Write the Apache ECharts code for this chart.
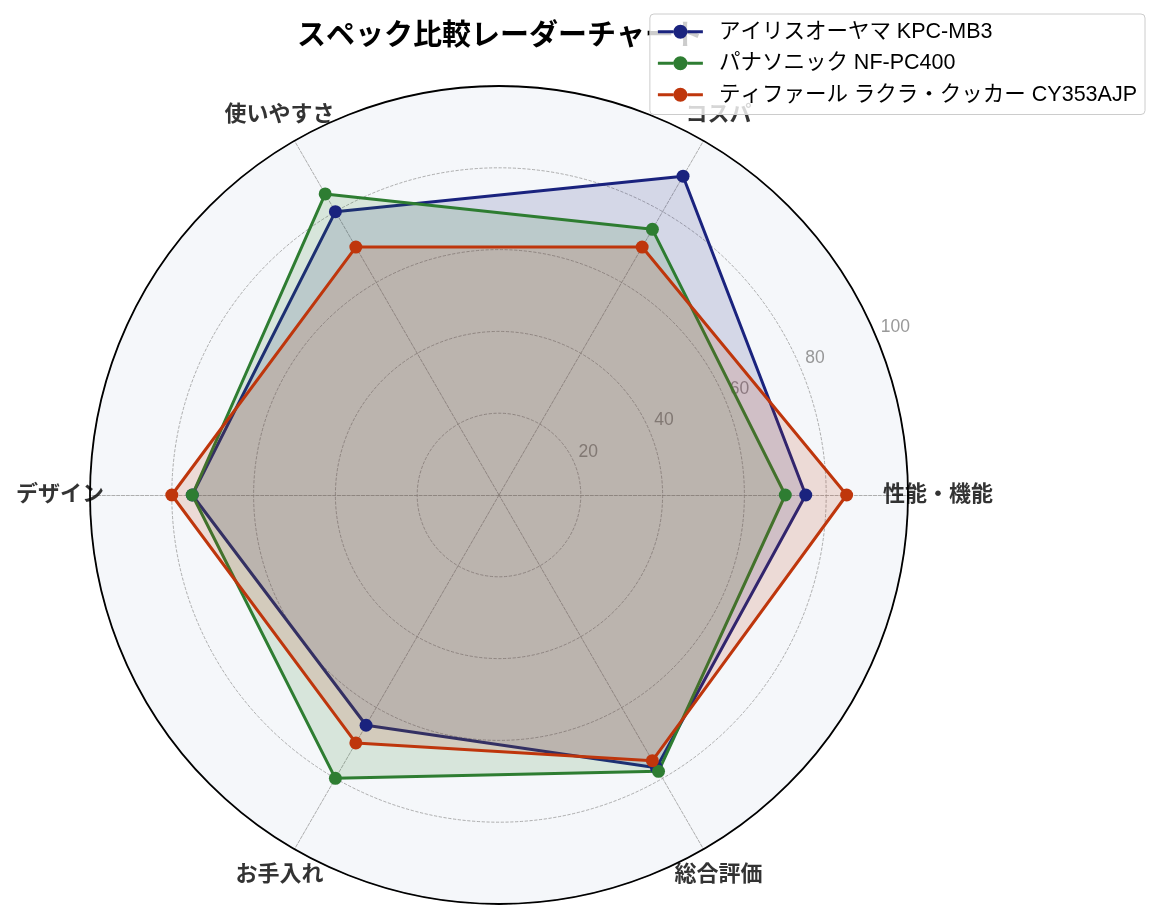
<!DOCTYPE html>
<html>
<head>
<meta charset="utf-8">
<script src="https://cdn.jsdelivr.net/npm/echarts@6/dist/echarts.min.js"></script>
<style>html,body{margin:0;padding:0;background:#fff}#c{width:1159px;height:920px}</style>
</head>
<body>
<div id="c"></div>
<script>
const titleText = 'スペック比較レーダーチャート';
const categories = ['性能・機能', 'コスパ', '使いやすさ', 'デザイン', 'お手入れ', '総合評価'];
const seriesNames = ['アイリスオーヤマ KPC-MB3', 'パナソニック NF-PC400', 'ティファール ラクラ・クッカー CY353AJP'];
const irisValues = [75, 90, 80, 75, 65, 77];
const panaValues = [70, 75, 85, 75, 80, 78];
const tfalValues = [85, 70, 70, 80, 70, 75];
const tickLabels = ['20', '40', '60', '80', '100'];
const axisMax = 100;

const colors = ['#1a237e', '#2e7d32', '#bf360c'];
const valueSets = [irisValues, panaValues, tfalValues];
const FONT = '"Liberation Sans", "Noto Sans CJK JP", sans-serif';
const CX = 499, CY = 495, R = 409, RLABEL = 439;
const legendIcon = 'path://M0,5.5L15.5,5.5L15.5,8.5L0,8.5Z M29.5,5.5L45,5.5L45,8.5L29.5,8.5Z M15.5,7A7,7,0,1,0,29.5,7A7,7,0,1,0,15.5,7Z';

const chart = echarts.init(document.getElementById('c'));
const option = {
  backgroundColor: '#ffffff',
  animation: false,
  title: {
    text: titleText,
    left: 292, top: 17, z: 1,
    textStyle: { fontFamily: FONT, fontSize: 29, fontWeight: 'bold', color: '#000' }
  },
  legend: {
    data: seriesNames,
    orient: 'vertical',
    right: 14, top: 14,
    padding: [7, 8, 9, 8],
    itemGap: 10,
    itemWidth: 45, itemHeight: 14,
    icon: legendIcon,
    backgroundColor: 'rgba(255,255,255,0.8)',
    borderColor: '#cccccc', borderWidth: 1, borderRadius: 4,
    z: 10,
    textStyle: { fontFamily: FONT, fontSize: 21.5, color: '#000', padding: [0, 8, 0, 11] }
  },
  radar: {
    center: [CX, CY], radius: R,
    startAngle: 0,
    shape: 'circle',
    splitNumber: 5,
    indicator: categories.map(n => ({ name: n, max: axisMax, min: 0 })),
    axisName: { show: false },
    axisLine: { lineStyle: { color: '#9a9a9a', type: 'dashed', width: 0.8 } },
    splitLine: { lineStyle: { color: '#9a9a9a', type: 'dashed', width: 0.8 } },
    splitArea: { show: true, areaStyle: { color: ['#F5F7FA'] } }
  },
  polar: [
    { center: [CX, CY], radius: R },
    { center: [CX, CY], radius: RLABEL }
  ],
  angleAxis: [
    { polarIndex: 0, type: 'value', min: 0, max: 360, startAngle: 0, clockwise: false, z: 3,
      axisLine: { show: true, lineStyle: { color: '#000', width: 1.8 } },
      axisTick: { show: false }, axisLabel: { show: false }, splitLine: { show: false } },
    { polarIndex: 1, type: 'value', min: 0, max: 360, startAngle: 0, clockwise: false, show: false }
  ],
  radiusAxis: [
    { polarIndex: 0, type: 'value', min: 0, max: axisMax, show: false },
    { polarIndex: 1, type: 'value', min: 0, max: axisMax, show: false }
  ],
  series: [
    {
      type: 'scatter', coordinateSystem: 'polar', polarIndex: 0, z: 1,
      silent: true, symbolSize: 1, itemStyle: { color: 'rgba(0,0,0,0)' },
      data: tickLabels.map(t => [Number(t), 22.5]),
      label: { show: true, position: 'inside', align: 'left', verticalAlign: 'bottom', offset: [4, -3],
        formatter: p => tickLabels[p.dataIndex], fontFamily: FONT, fontSize: 17.5, color: '#808080' }
    },
    {
      type: 'scatter', coordinateSystem: 'polar', polarIndex: 1, z: 4,
      silent: true, symbolSize: 1, itemStyle: { color: 'rgba(0,0,0,0)' },
      data: categories.map((n, i) => [axisMax, i * 360 / categories.length]),
      label: { show: true, position: 'inside', align: 'center', verticalAlign: 'middle',
        formatter: p => categories[p.dataIndex], fontFamily: FONT, fontSize: 22, fontWeight: 'bold', color: '#000' }
    },
    {
      type: 'radar', z: 2,
      symbol: 'circle', symbolSize: 13,
      data: seriesNames.map((n, i) => ({
        name: n,
        value: valueSets[i],
        itemStyle: { color: colors[i] },
        lineStyle: { color: colors[i], width: 3 },
        areaStyle: { color: colors[i], opacity: 0.15 }
      }))
    }
  ]
};
chart.setOption(option);
</script>
</body>
</html>
